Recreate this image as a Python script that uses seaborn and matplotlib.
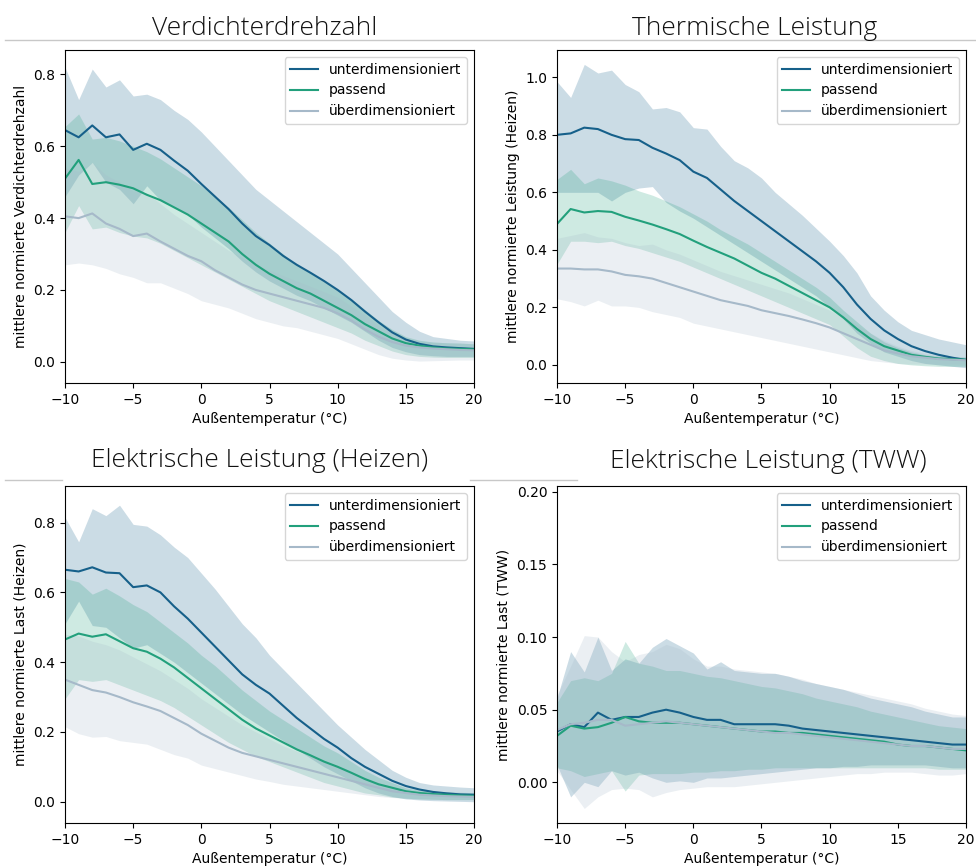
import numpy as np
import pandas as pd
import matplotlib
matplotlib.use("Agg")
import matplotlib.pyplot as plt
from matplotlib.lines import Line2D
import seaborn as sns

# ============================
# Data
# ============================
temps = list(range(-10, 21))
groups = ["unterdimensioniert", "passend", "überdimensioniert"]

# --- Verdichterdrehzahl ---
vd_unter = [.645, .625, .658, .625, .633, .59, .607, .59, .56, .532, .495, .46, .425, .385, .35, .325,
            .295, .27, .248, .225, .20, .172, .14, .11, .082, .062, .05, .043, .04, .038, .036]
vd_pass = [.51, .562, .495, .50, .493, .483, .465, .45, .43, .41, .385, .36, .335, .30, .27, .245,
           .225, .205, .19, .17, .15, .13, .105, .085, .065, .052, .045, .04, .037, .036, .035]
vd_ueber = [.405, .40, .413, .385, .37, .35, .357, .335, .315, .295, .28, .255, .235, .215, .20, .19,
            .18, .17, .16, .15, .135, .115, .09, .07, .055, .045, .04, .037, .035, .033, .032]
vd_unter_hi = [.82, .73, .815, .765, .785, .74, .745, .73, .70, .675, .64, .60, .56, .52, .48, .45,
               .42, .39, .36, .33, .30, .26, .22, .18, .14, .11, .085, .07, .065, .06, .058]
vd_unter_lo = [.46, .52, .555, .50, .48, .44, .49, .45, .43, .41, .375, .345, .315, .28, .25, .225,
               .205, .185, .17, .15, .13, .11, .085, .06, .04, .028, .02, .017, .015, .015, .015]
vd_pass_hi = [.655, .69, .62, .625, .615, .60, .585, .565, .54, .515, .49, .46, .43, .395, .36, .33,
              .30, .27, .25, .225, .20, .175, .145, .115, .09, .07, .06, .055, .053, .052, .05]
vd_pass_lo = [.36, .435, .37, .375, .36, .35, .345, .33, .31, .29, .27, .25, .23, .21, .19, .17,
              .155, .14, .125, .11, .095, .08, .06, .045, .03, .02, .015, .013, .012, .012, .012]
vd_ueber_hi = [.54, .53, .555, .52, .50, .475, .47, .44, .41, .385, .36, .335, .31, .29, .27, .255,
               .24, .225, .21, .195, .18, .155, .13, .10, .08, .065, .058, .055, .053, .052, .05]
vd_ueber_lo = [.27, .275, .27, .26, .245, .235, .22, .22, .205, .19, .17, .16, .15, .135, .12, .11,
               .10, .095, .085, .075, .065, .05, .035, .02, .01, .005, .002, .003, .004, .005, .005]

# --- Thermische Leistung ---
th_unter = [.80, .805, .825, .82, .80, .785, .782, .755, .735, .712, .672, .65, .61, .57, .535, .50,
            .465, .43, .395, .36, .32, .27, .21, .16, .12, .09, .065, .048, .035, .025, .017]
th_pass = [.49, .542, .53, .535, .532, .515, .502, .488, .472, .455, .432, .41, .39, .37, .345, .32,
           .30, .275, .25, .225, .20, .165, .125, .09, .065, .05, .035, .028, .022, .02, .018]
th_ueber = [.335, .335, .332, .332, .325, .313, .308, .30, .285, .27, .255, .24, .225, .215, .205, .19,
            .18, .17, .158, .145, .13, .11, .09, .07, .05, .04, .03, .025, .02, .018, .016]
th_unter_hi = [.985, .93, 1.045, 1.015, 1.025, .975, .95, .89, .895, .88, .825, .82, .76, .71, .685, .65,
               .60, .56, .52, .475, .43, .38, .32, .24, .19, .15, .12, .105, .09, .08, .07]
th_unter_lo = [.60, .60, .60, .60, .57, .60, .615, .62, .565, .535, .51, .48, .45, .42, .39, .36,
               .33, .30, .27, .24, .20, .16, .11, .075, .045, .03, .015, .005, .0, -.005, -.01]
th_pass_hi = [.645, .68, .63, .65, .64, .625, .605, .59, .57, .55, .525, .50, .47, .445, .42, .39,
              .36, .33, .30, .27, .235, .19, .15, .11, .08, .06, .045, .035, .03, .028, .027]
th_pass_lo = [.35, .43, .43, .425, .43, .415, .405, .39, .375, .36, .34, .32, .30, .28, .26, .24,
              .22, .20, .18, .16, .14, .10, .06, .03, .015, .005, .0, -.003, -.005, -.005, -.005]
th_ueber_hi = [.44, .45, .46, .445, .44, .425, .415, .42, .40, .385, .365, .345, .325, .31, .295, .28,
               .265, .25, .23, .21, .19, .165, .14, .11, .085, .065, .05, .04, .035, .03, .028]
th_ueber_lo = [.23, .22, .205, .225, .205, .205, .20, .185, .175, .165, .145, .135, .125, .115, .105, .095,
               .085, .075, .065, .055, .045, .035, .025, .015, .01, .005, .003, .003, .003, .003, .003]

# --- Elektrische Leistung (Heizen) ---
eh_unter = [.665, .66, .672, .657, .655, .615, .62, .60, .56, .525, .485, .445, .405, .365, .335, .31,
            .275, .24, .21, .18, .155, .125, .10, .08, .06, .045, .035, .028, .024, .021, .02]
eh_pass = [.465, .482, .473, .48, .46, .44, .43, .41, .385, .355, .325, .295, .265, .235, .21, .19,
           .17, .15, .133, .115, .10, .083, .065, .05, .04, .03, .025, .022, .02, .018, .017]
eh_ueber = [.35, .335, .32, .313, .30, .285, .273, .26, .24, .22, .195, .175, .155, .14, .13, .12,
            .11, .10, .09, .08, .07, .06, .05, .04, .03, .025, .02, .018, .016, .015, .014]
eh_unter_hi = [.815, .745, .84, .82, .85, .795, .79, .765, .73, .70, .655, .61, .56, .51, .47, .42,
               .38, .34, .30, .26, .22, .185, .15, .12, .09, .07, .055, .048, .045, .042, .04]
eh_unter_lo = [.51, .575, .505, .50, .47, .44, .45, .425, .40, .37, .34, .31, .28, .25, .225, .20,
               .175, .15, .125, .10, .08, .06, .04, .025, .015, .008, .005, .003, .002, .001, .0]
eh_pass_hi = [.64, .63, .595, .612, .59, .565, .545, .515, .485, .455, .42, .39, .355, .32, .29, .26,
              .235, .21, .185, .16, .14, .115, .09, .07, .055, .04, .033, .03, .028, .027, .026]
eh_pass_lo = [.295, .35, .345, .35, .335, .32, .305, .29, .27, .245, .22, .195, .17, .15, .13, .115,
              .10, .085, .07, .055, .045, .035, .025, .02, .013, .01, .008, .007, .006, .006, .006]
eh_ueber_hi = [.48, .475, .46, .45, .435, .415, .395, .375, .35, .325, .295, .27, .245, .22, .20, .18,
               .16, .145, .13, .115, .10, .085, .07, .055, .045, .035, .03, .027, .025, .023, .022]
eh_ueber_lo = [.215, .195, .185, .187, .175, .17, .165, .15, .135, .125, .105, .095, .085, .075, .065, .058,
               .05, .045, .04, .035, .03, .025, .02, .015, .012, .01, .008, .007, .006, .006, .006]

# --- Elektrische Leistung (TWW) ---
tw_unter = [.035, .04, .038, .048, .043, .045, .045, .048, .05, .048, .045, .043, .043, .04, .04, .04,
            .04, .039, .037, .036, .035, .034, .033, .032, .031, .03, .029, .028, .027, .026, .026]
tw_pass = [.032, .039, .037, .038, .041, .045, .042, .041, .041, .041, .04, .039, .038, .037, .036, .035,
           .035, .034, .034, .033, .032, .031, .03, .029, .028, .026, .025, .025, .024, .023, .022]
tw_ueber = [.036, .04, .041, .043, .043, .039, .04, .041, .042, .041, .04, .039, .038, .037, .036, .035,
            .034, .034, .033, .032, .031, .03, .029, .028, .027, .026, .025, .025, .024, .023, .023]
tw_unter_hi = [.058, .09, .076, .10, .077, .085, .082, .093, .099, .094, .089, .078, .083, .077, .076, .075,
               .075, .073, .07, .068, .066, .064, .061, .058, .056, .054, .052, .049, .047, .045, .045]
tw_unter_lo = [.012, -.01, .0, -.003, .008, .005, .007, .003, .0, .001, .0, .003, .003, .004, .005, .006,
               .007, .008, .009, .01, .01, .011, .011, .012, .012, .012, .012, .012, .011, .01, .01]
tw_pass_hi = [.055, .07, .072, .07, .075, .097, .082, .08, .077, .077, .075, .073, .072, .07, .068, .066,
              .065, .063, .061, .058, .056, .054, .052, .049, .047, .045, .043, .041, .039, .038, .037]
tw_pass_lo = [.01, .008, .004, .006, .008, -.006, .005, .006, .006, .006, .007, .007, .008, .008, .009, .009,
              .01, .01, .01, .01, .01, .01, .01, .01, .01, .01, .01, .01, .009, .009, .009]
tw_ueber_hi = [.06, .08, .101, .10, .09, .083, .088, .09, .095, .092, .085, .08, .08, .078, .077, .076,
               .075, .073, .071, .068, .066, .064, .062, .06, .058, .056, .054, .051, .049, .047, .046]
tw_ueber_lo = [.008, -.005, -.018, -.01, -.005, -.004, -.005, -.01, -.007, -.005, -.004, -.003, -.003, -.003, -.002, -.001,
               .0, .001, .002, .003, .004, .005, .006, .006, .007, .007, .007, .006, .005, .005, .006]

palette = {"unterdimensioniert": "#16608a", "passend": "#22a07c", "überdimensioniert": "#a6b9c9"}


def make_df(mean, lo, hi):
    rows = []
    for g, m, l, h in zip(groups, mean, lo, hi):
        rows.append(pd.DataFrame({"temp": temps, "wert": m, "lo": l, "hi": h, "gruppe": g}))
    return pd.concat(rows, ignore_index=True)


panels = [
    ("Verdichterdrehzahl", "mittlere normierte Verdichterdrehzahl",
     make_df([vd_unter, vd_pass, vd_ueber], [vd_unter_lo, vd_pass_lo, vd_ueber_lo],
             [vd_unter_hi, vd_pass_hi, vd_ueber_hi]),
     [65, 50, 474, 383], (-0.059, 0.868), [0, 0.2, 0.4, 0.6, 0.8], "{:.1f}", (265, 35)),
    ("Thermische Leistung", "mittlere normierte Leistung (Heizen)",
     make_df([th_unter, th_pass, th_ueber], [th_unter_lo, th_pass_lo, th_ueber_lo],
             [th_unter_hi, th_pass_hi, th_ueber_hi]),
     [557, 50, 966, 383], (-0.063, 1.095), [0, 0.2, 0.4, 0.6, 0.8, 1.0], "{:.1f}", (755, 35)),
    ("Elektrische Leistung (Heizen)", "mittlere normierte Last (Heizen)",
     make_df([eh_unter, eh_pass, eh_ueber], [eh_unter_lo, eh_pass_lo, eh_ueber_lo],
             [eh_unter_hi, eh_pass_hi, eh_ueber_hi]),
     [65, 486, 474, 823], (-0.061, 0.905), [0, 0.2, 0.4, 0.6, 0.8], "{:.1f}", (260, 467)),
    ("Elektrische Leistung (TWW)", "mittlere normierte Last (TWW)",
     make_df([tw_unter, tw_pass, tw_ueber], [tw_unter_lo, tw_pass_lo, tw_ueber_lo],
             [tw_unter_hi, tw_pass_hi, tw_ueber_hi]),
     [557, 486, 966, 823], (-0.028, 0.204), [0, 0.05, 0.10, 0.15, 0.20], "{:.2f}", (768, 468)),
]

# ============================
# Plot
# ============================
W, H = 976, 866
fig = plt.figure(figsize=(W / 100, H / 100), dpi=100)

for title, ylabel, df, box, ylim, yticks, fmt, tpos in panels:
    x0, y0, x1, y1 = box
    ax = fig.add_axes([x0 / W, 1 - y1 / H, (x1 - x0) / W, (y1 - y0) / H])
    for g in groups:
        sub = df[df["gruppe"] == g]
        ax.fill_between(sub["temp"], sub["lo"], sub["hi"], color=palette[g], alpha=0.22, linewidth=0)
    sns.lineplot(data=df, x="temp", y="wert", hue="gruppe", hue_order=groups,
                 palette=palette, ax=ax, linewidth=1.5)
    sns.move_legend(ax, "upper right", title=None)
    ax.set_xlim(-10, 20)
    ax.set_ylim(*ylim)
    ax.set_xticks([-10, -5, 0, 5, 10, 15, 20])
    ax.set_yticks(yticks)
    ax.set_yticklabels([fmt.format(v) for v in yticks])
    ax.set_xlabel("Außentemperatur (°C)")
    ax.set_ylabel(ylabel)
    fig.text(tpos[0] / W, 1 - tpos[1] / H, title, ha="center", va="baseline",
             fontsize=19, family="Open Sans", fontweight="light", color="#111111")

# thin separator lines from the original layout
sep = "#c8c8c8"
fig.add_artist(Line2D([5 / W, 976 / W], [1 - 40 / H, 1 - 40 / H], color=sep, lw=1))
fig.add_artist(Line2D([5 / W, 62 / W], [1 - 480 / H, 1 - 480 / H], color=sep, lw=1))
fig.add_artist(Line2D([470 / W, 577 / W], [1 - 480 / H, 1 - 480 / H], color=sep, lw=1))

fig.savefig("out.png", dpi=100)
